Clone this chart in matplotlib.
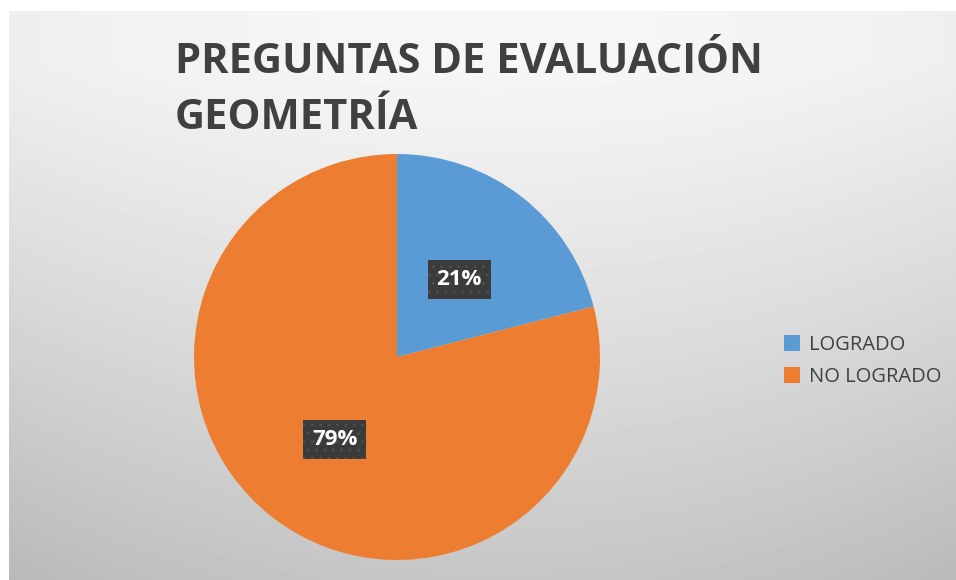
import numpy as np
import matplotlib.pyplot as plt

labels = ['LOGRADO', 'NO LOGRADO']
values = [21, 79]
colors = ['#5B9BD5', '#ED7D31']
title = 'PREGUNTAS DE EVALUACIÓN\nGEOMETRÍA'

W, H = 956, 580
fig = plt.figure(figsize=(W / 100, H / 100), dpi=100)
fig.patch.set_facecolor('white')

# soft gray gradient behind the chart (chart area starts a few px in from left/top)
bg = fig.add_axes([9 / W, 0, 1 - 9 / W, 1 - 11 / H], zorder=-5)
yy, xx = np.mgrid[0:569, 0:947]
dx = (xx - 480) / 470.0
dy = (yy - 50) / 520.0
shade = 0.965 - 0.03 * dx ** 2 - 0.19 * np.clip(dy, 0, None) ** 1.1 - 0.02 * (dx ** 2) * np.clip(dy, 0, None)
bg.imshow(shade, cmap='gray', vmin=0, vmax=1, aspect='auto', interpolation='bilinear')
bg.axis('off')

# pie
cx, cy, r = 397, 357, 203
ax = fig.add_axes([(cx - r) / W, (H - cy - r) / H, 2 * r / W, 2 * r / H])
wedges, texts, autotexts = ax.pie(values, colors=colors, startangle=90, counterclock=False,
                                  autopct='%1.0f%%', pctdistance=0.5,
                                  wedgeprops=dict(linewidth=0))
for t in autotexts:
    t.set_color('white')
    t.set_fontsize(16)
    t.set_fontweight('bold')
    t.set_fontfamily('Open Sans')
    t.set_va('center_baseline')
    t.set_bbox(dict(boxstyle='square,pad=0.4', facecolor='#3b3b3b', edgecolor='#4e4e4e',
                    linewidth=0, hatch='..'))
ax.set_xlim(-1, 1)
ax.set_ylim(-1, 1)
ax.set_aspect('auto')
ax.axis('off')

fig.text(175 / W, 1 - 42 / H, title, fontsize=30, fontweight='bold', color='#404040',
         family='Open Sans', ha='left', va='top', linespacing=1.47)

fig.legend(wedges, labels, loc='center left', bbox_to_anchor=(766 / W, 1 - 361 / H),
           frameon=False, handlelength=0.8, handleheight=0.8,
           handletextpad=0.45, labelspacing=0.58, labelcolor='#404040',
           prop={'family': 'Open Sans', 'size': 14.5})

fig.savefig('out.png', dpi=100)
